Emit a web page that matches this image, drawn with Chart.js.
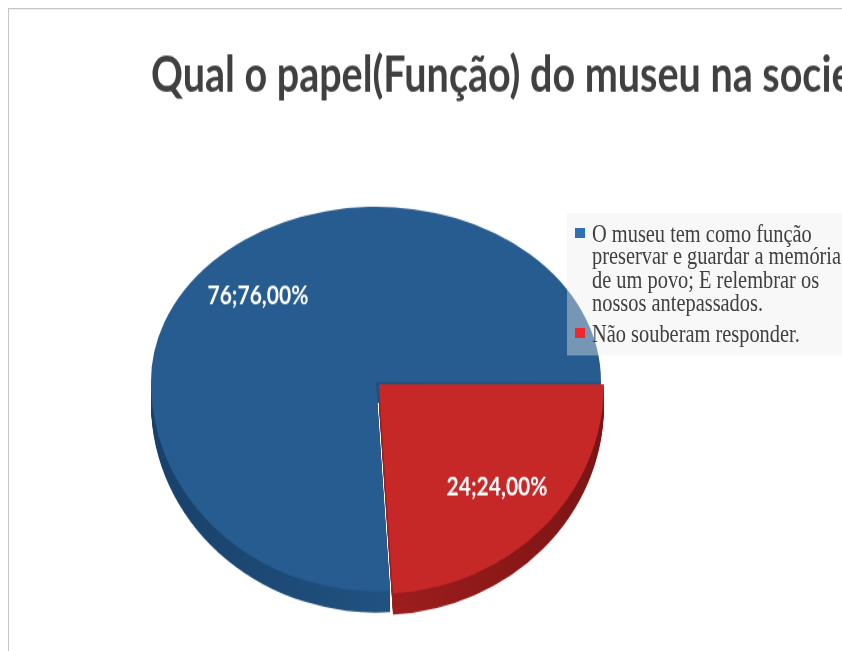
<!DOCTYPE html>
<html>
<head>
<meta charset="utf-8">
<script src="https://cdn.jsdelivr.net/npm/chart.js@4.4.1/dist/chart.umd.min.js"></script>
<style>
html, body { margin: 0; padding: 0; background: #fff; overflow: hidden; width: 842px; height: 651px; }
#frame { position: absolute; left: 8px; top: 8px; width: 1000px; height: 520px; border-left: 1px solid #c4c4c4; border-top: 1px solid #c4c4c4; background: #fff; transform: scaleY(1.25); transform-origin: 0 0; }
#box { position: relative; width: 1000px; height: 520px; }
#legend { position: absolute; left: 558px; top: 162.5px; width: 330px; height: 114px; background: rgba(238,238,238,0.4);
  font-family: "Liberation Serif", "Times New Roman", serif; font-size: 20.4px; line-height: 18.4px; color: #404040; }
.item { position: relative; padding-left: 25px; width: 268px; }
.item .sw { position: absolute; left: 8px; top: 5px; width: 10px; height: 8px; }
</style>
</head>
<body>
<div id="frame">
  <div id="box"><canvas id="myChart"></canvas></div>
  <div id="legend"></div>
</div>
<script>
// data
const title = 'Qual o papel(Função) do museu na sociedade?';
const labels = [
  'O museu tem como função preservar e guardar a memória de um povo; E relembrar os nossos antepassados.',
  'Não souberam responder.'
];
const values = [76, 24];
const colors = ['#265C8F', '#C62828'];
const legendColors = ['#2F6FB4', '#F0282C'];
const sideColors = [['#18416a', '#21517f', '#22548a'], ['#b02424', '#a01e1e', '#7c1414']];

// fake 3d: squash the pie, back half flatter than the front half
const TX = 367, VY = 298;
const K_BACK = 0.622, K_FRONT = 0.745, DEPTH = 17;

const total = values.reduce((a, b) => a + b, 0);

// html legend
const legendDiv = document.getElementById('legend');
labels.forEach((l, i) => {
  const it = document.createElement('div');
  it.className = 'item';
  it.style.marginTop = i == 0 ? '7.5px' : '6.4px';
  it.innerHTML = '<span class="sw" style="background:' + legendColors[i] + '"></span>' + l;
  legendDiv.appendChild(it);
});

const tiltPie = {
  id: 'tiltPie',
  beforeDatasetsDraw(chart) {
    const ctx = chart.ctx;
    const arcs = chart.getDatasetMeta(0).data;
    const ax = arcs[0].x, ay = arcs[0].y, R = arcs[0].outerRadius;
    const W = chart.width, H = chart.height;

    function half(top, k, shift, paint) {
      ctx.save();
      ctx.beginPath();
      if (top) ctx.rect(0, 0, W, VY); else ctx.rect(0, VY, W, H - VY);
      ctx.clip();
      ctx.translate(TX, VY + shift);
      ctx.scale(1, k);
      ctx.translate(-ax, -ay);
      paint();
      ctx.restore();
    }

    // side walls
    for (let d = DEPTH; d >= 1; d--) {
      half(false, K_FRONT, d, () => {
        arcs.forEach((arc, i) => {
          const g = ctx.createLinearGradient(ax - R, 0, ax + R, 0);
          const st = sideColors[i];
          st.forEach((c, j) => g.addColorStop(j / (st.length - 1), c));
          const p = Object.create(arc);
          p.options = Object.assign({}, arc.options, { backgroundColor: g });
          p.draw(ctx);
        });
      });
    }
    // top face
    half(true, K_BACK, 0, () => arcs.forEach(a => a.draw(ctx)));
    half(false, K_FRONT, 0, () => arcs.forEach(a => a.draw(ctx)));

    // value labels
    ctx.save();
    ctx.font = 'bold 21px Lato';
    ctx.fillStyle = '#fff';
    ctx.textAlign = 'center';
    ctx.textBaseline = 'middle';
    arcs.forEach((arc, i) => {
      const mid = (arc.startAngle + arc.endAngle) / 2;
      const r = R * 0.72 + (arc.options.offset || 0) / 4;
      const dy = Math.sin(mid) * r;
      const x = TX + Math.cos(mid) * r;
      const y = VY + dy * (dy < 0 ? K_BACK : K_FRONT);
      const txt = values[i] + ';' + (values[i] / total * 100).toFixed(2).replace('.', ',') + '%';
      ctx.fillText(txt, x, y);
    });
    ctx.restore();
    return false;
  }
};

const config = {
  type: 'pie',
  data: {
    labels: labels,
    datasets: [{
      data: values,
      backgroundColor: colors,
      borderWidth: 0,
      offset: [0, 16]
    }]
  },
  options: {
    responsive: true,
    maintainAspectRatio: false,
    animation: false,
    rotation: 90 + 360 * values[1] / total,
    radius: 225,
    layout: { padding: { left: 142, right: 0, top: 0, bottom: 0 } },
    plugins: {
      legend: { display: false },
      tooltip: { enabled: false },
      title: {
        display: true,
        text: title,
        align: 'start',
        color: '#404040',
        font: { family: 'Lato', size: 39.5, weight: 'bold' },
        padding: { top: 30, bottom: 0 }
      }
    }
  },
  plugins: [tiltPie]
};

const myChart = new Chart(document.getElementById('myChart'), config);
</script>
</body>
</html>
